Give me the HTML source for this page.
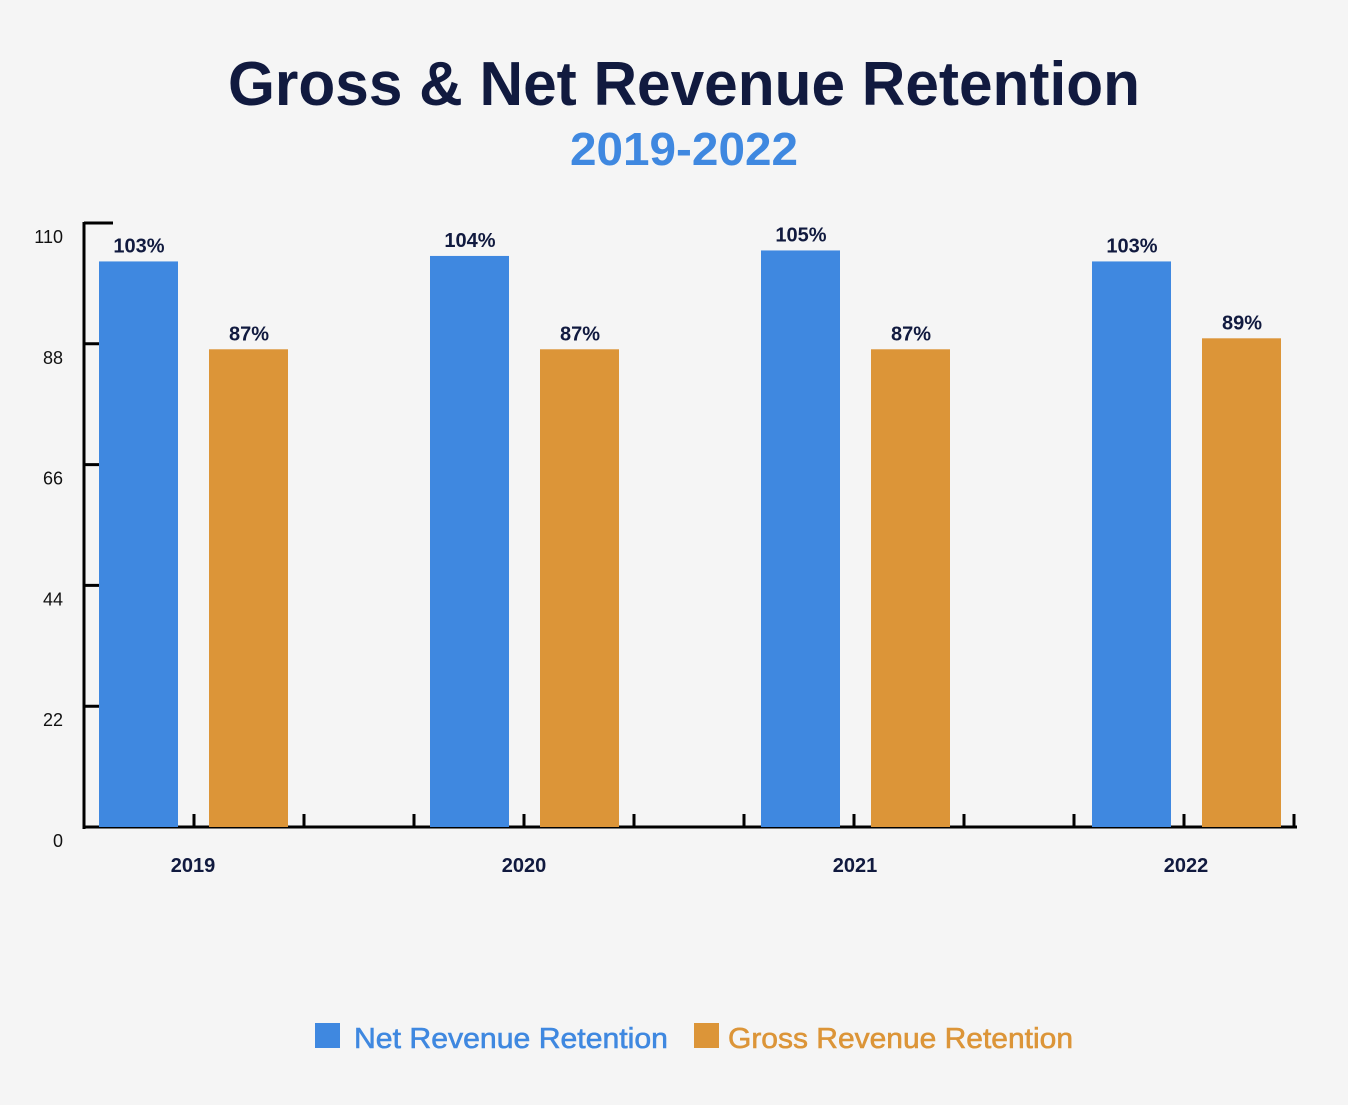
<!DOCTYPE html>
<html><head><meta charset="utf-8"><style>
body{margin:0;background:#f5f5f5;width:1348px;height:1100px;overflow:hidden;font-family:"Liberation Sans",sans-serif}
</style></head><body>
<svg width="1348" height="1100">
<text x="684" y="105" text-anchor="middle" font-size="62" font-weight="bold" fill="#111a3f" textLength="912" lengthAdjust="spacingAndGlyphs">Gross &amp; Net Revenue Retention</text>
<text x="684" y="165" text-anchor="middle" font-size="46" font-weight="bold" fill="#3f88e0" textLength="228" lengthAdjust="spacingAndGlyphs">2019-2022</text>
<g id="axes"></g><g id="bars"></g>
<rect x="315" y="1023" width="25" height="25" fill="#3f88e0"/>
<text x="354" y="1048" font-size="29" fill="#3f88e0" stroke="#3f88e0" stroke-width="0.6" textLength="314" lengthAdjust="spacingAndGlyphs">Net Revenue Retention</text>
<rect x="694" y="1023" width="25" height="25" fill="#dc9538"/>
<text x="728" y="1048" font-size="29" fill="#dc9538" stroke="#dc9538" stroke-width="0.6" textLength="345" lengthAdjust="spacingAndGlyphs">Gross Revenue Retention</text>
</svg>
<script>
const categories=["2019","2020","2021","2022"];
const netValues=[103,104,105,103];
const grossValues=[87,87,87,89];
const yTicks=[0,22,44,66,88,110];
const NS="http://www.w3.org/2000/svg";
const y0=827,yTop=223,yMax=110;
const y=v=>y0-(v/yMax)*(y0-yTop);
const gx=i=>99+i*331;
function mk(tag,attrs,parent,text){const e=document.createElementNS(NS,tag);for(const k in attrs)e.setAttribute(k,attrs[k]);if(text!==undefined)e.textContent=text;parent.appendChild(e);return e;}
const axes=document.getElementById('axes'),bars=document.getElementById('bars');
let e=mk('line',{x1:84,y1:yTop-1,x2:84,y2:y0+2,stroke:'#000','stroke-width':3},axes);


e=mk('line',{x1:83,y1:y0,x2:1297,y2:y0,stroke:'#000','stroke-width':3},axes);


yTicks.forEach(t=>{
  const l=mk('line',{x1:84,y1:y(t),x2:113,y2:y(t),stroke:'#000','stroke-width':3},axes);
  
  
  const tx=mk('text',{x:63,y:y(t)+20,'text-anchor':'end','font-size':18,fill:'#111'},axes,String(t));
  
  
});
for(let k=0;k<11;k++){const x=194+k*110;
  const l=mk('line',{x1:x,y1:y0,x2:x,y2:y0-13,stroke:'#000','stroke-width':3},axes);
  
  }
categories.forEach((c,i)=>{
  const x=gx(i);
  const b1=mk('rect',{x:x,y:y(netValues[i]),width:79,height:y0-y(netValues[i]),fill:'#3f88e0'},bars);
  
  
  const b2=mk('rect',{x:x+110,y:y(grossValues[i]),width:79,height:y0-y(grossValues[i]),fill:'#dc9538'},bars);
  
  
  const t1=mk('text',{x:x+40,y:y(netValues[i])-9,'text-anchor':'middle','font-size':20,'font-weight':'bold',fill:'#111a3f'},bars,netValues[i]+'%');
  
  
  const t2=mk('text',{x:x+150,y:y(grossValues[i])-9,'text-anchor':'middle','font-size':20,'font-weight':'bold',fill:'#111a3f'},bars,grossValues[i]+'%');
  
  
  const xl=mk('text',{x:x+94,y:872,'text-anchor':'middle','font-size':20,'font-weight':'bold',fill:'#111a3f'},bars,c);
  
  
});
</script>
</body></html>
